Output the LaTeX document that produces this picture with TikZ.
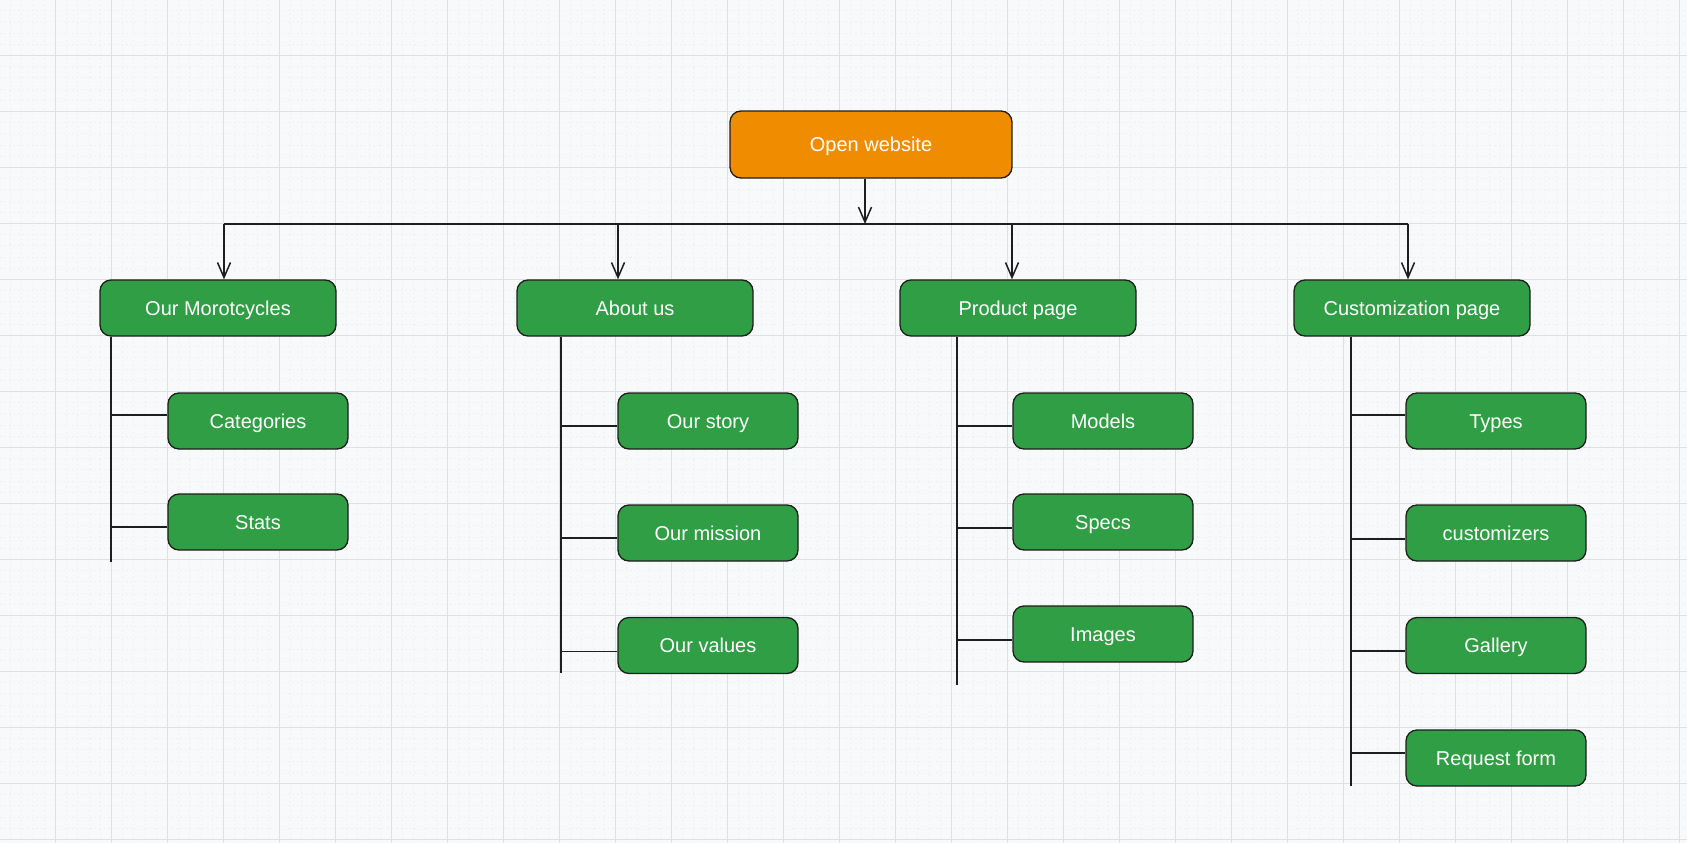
\documentclass[tikz,border=0pt]{standalone}
\usepackage{fontspec}
\setmainfont{Liberation Sans}
\usetikzlibrary{arrows.meta}

\definecolor{paper}{HTML}{F8F9FA}
\definecolor{gridmajor}{HTML}{DEE0E3}
\definecolor{gridminor}{HTML}{EDEFF1}
\definecolor{ink}{HTML}{1E1E1E}
\definecolor{leafgreen}{HTML}{2F9E44}
\definecolor{rootorange}{HTML}{F08C00}

\tikzset{
  box/.style={draw=ink, line width=1.3pt, rounded corners=11pt, text=white,
    font=\fontsize{20}{24}\selectfont, text height=14.3pt, text depth=0pt,
    inner sep=0pt, align=center},
  rootbox/.style={box, fill=rootorange, minimum width=282pt, minimum height=67pt},
  pagebox/.style={box, fill=leafgreen, minimum width=236pt, minimum height=56pt},
  leafbox/.style={box, fill=leafgreen, minimum width=180pt, minimum height=56pt},
  conn/.style={draw=ink, line width=1.5pt},
  arr/.style={conn, -{Straight Barb[length=15pt,width=13pt,line width=1.5pt]}},
}

% hang a leaf off its trunk, slightly off the leaf's mid-height
\newcommand\branchto[3]{%
  \path ([yshift=#3]#2.west) coordinate (brend);
  \draw[conn] (brend -| #1) -- (brend);}

\begin{document}
\begin{tikzpicture}[x=1pt, y=-1pt]
  \useasboundingbox (0,0) rectangle (1687,843);
  \fill[paper] (0,0) rectangle (1687,843);

  % background grid: faint dashed minor lines, solid major lines
  \foreach \i in {0,...,151} {
    \draw[gridminor, line width=0.7pt, dash pattern=on 1.5pt off 3pt]
      ({-0.7+11.2*\i},0) -- ({-0.7+11.2*\i},843);
  }
  \foreach \i in {0,...,76} {
    \draw[gridminor, line width=0.7pt, dash pattern=on 1.5pt off 3pt]
      (0,{-0.7+11.2*\i}) -- (1687,{-0.7+11.2*\i});
  }
  \foreach \i in {0,...,30} {
    \draw[gridmajor, line width=1pt] ({55.3+56*\i},0) -- ({55.3+56*\i},843);
  }
  \foreach \i in {0,...,14} {
    \draw[gridmajor, line width=1pt] (0,{55.3+56*\i}) -- (1687,{55.3+56*\i});
  }

  % root
  \node[rootbox] (root) at (871,144.5) {Open website};

  % section pages
  \node[pagebox] (moto) at (218,308)  {Our Morotcycles};
  \node[pagebox] (about) at (635,308) {About us};
  \node[pagebox] (prod) at (1018,308) {Product page};
  \node[pagebox] (cust) at (1412,308) {Customization page};

  % leaves
  \node[leafbox] (cat)   at (258,421)  {Categories};
  \node[leafbox] (stats) at (258,522)  {Stats};

  \node[leafbox] (story)   at (708,421)   {Our story};
  \node[leafbox] (mission) at (708,533)   {Our mission};
  \node[leafbox] (values)  at (708,645.5) {Our values};

  \node[leafbox] (models) at (1103,421) {Models};
  \node[leafbox] (specs)  at (1103,522) {Specs};
  \node[leafbox] (images) at (1103,634) {Images};

  \node[leafbox] (types)   at (1496,421)   {Types};
  \node[leafbox] (custzr)  at (1496,533)   {customizers};
  \node[leafbox] (gallery) at (1496,645.5) {Gallery};
  \node[leafbox] (request) at (1496,758)   {Request form};

  % distribution bus
  \coordinate (busmid) at (865,224);
  \coordinate (drop1) at (224,224);
  \coordinate (drop2) at (618,224);
  \coordinate (drop3) at (1012,224);
  \coordinate (drop4) at (1408,224);

  \draw[arr] (busmid |- root.south) -- (busmid);
  \draw[conn] (drop1) -- (drop4);
  \draw[arr] (drop1) -- (drop1 |- moto.north);
  \draw[arr] (drop2) -- (drop2 |- about.north);
  \draw[arr] (drop3) -- (drop3 |- prod.north);
  \draw[arr] (drop4) -- (drop4 |- cust.north);

  % trunks
  \coordinate (trunk1) at (111,562);
  \coordinate (trunk2) at (561,673);
  \coordinate (trunk3) at (957,685);
  \coordinate (trunk4) at (1351,786);

  \draw[conn] (trunk1 |- moto.south)  -- (trunk1);
  \draw[conn] (trunk2 |- about.south) -- (trunk2);
  \draw[conn] (trunk3 |- prod.south)  -- (trunk3);
  \draw[conn] (trunk4 |- cust.south)  -- (trunk4);

  % branches
  \branchto{trunk1}{cat}{6pt}
  \branchto{trunk1}{stats}{-5pt}

  \branchto{trunk2}{story}{-5pt}
  \branchto{trunk2}{mission}{-5pt}
  \branchto{trunk2}{values}{-6pt}

  \branchto{trunk3}{models}{-5pt}
  \branchto{trunk3}{specs}{-6pt}
  \branchto{trunk3}{images}{-6pt}

  \branchto{trunk4}{types}{6pt}
  \branchto{trunk4}{custzr}{-6pt}
  \branchto{trunk4}{gallery}{-5.5pt}
  \branchto{trunk4}{request}{5pt}
\end{tikzpicture}
\end{document}
